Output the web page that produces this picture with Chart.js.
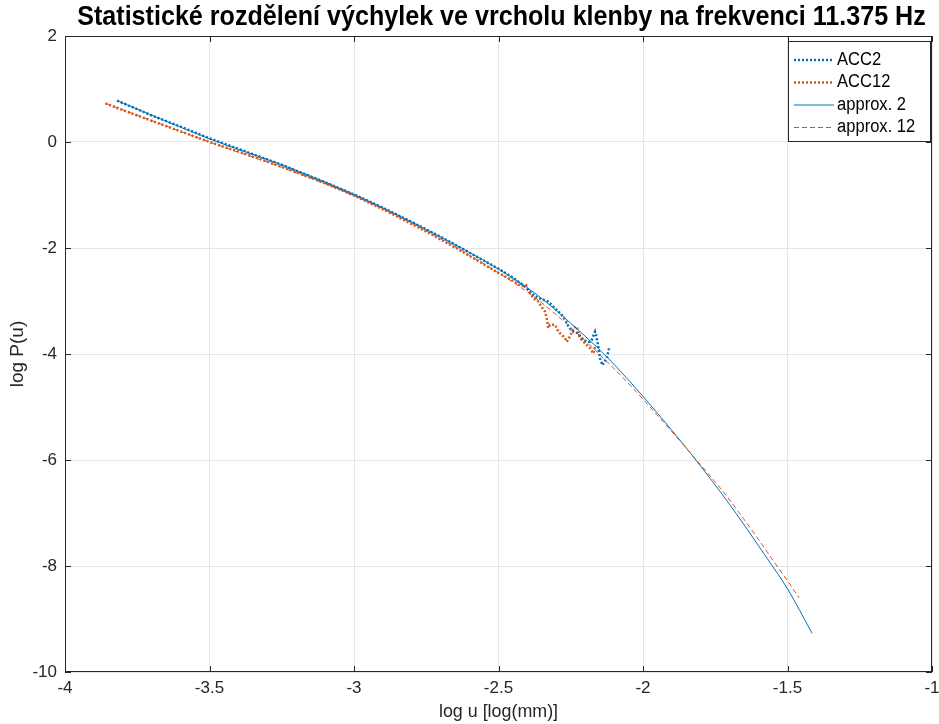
<!DOCTYPE html>
<html>
<head>
<meta charset="utf-8">
<script src="https://cdn.jsdelivr.net/npm/chart.js@4.4.1/dist/chart.umd.min.js"></script>
<style>
  html, body { margin: 0; padding: 0; background: #fff; }
  #wrap { width: 939px; height: 724px; }
</style>
</head>
<body>
<div id="wrap"><canvas id="chart" width="939" height="724"></canvas></div>
<script>
// naměřená data
const acc2X = [-3.82, -3.75, -3.70, -3.60, -3.50, -3.40, -3.30, -3.25, -3.20, -3.10, -3.00, -2.90, -2.80, -2.75, -2.70, -2.65, -2.60, -2.55, -2.50, -2.45, -2.415,
  -2.374, -2.350, -2.328, -2.299, -2.281, -2.266, -2.255, -2.241, -2.224, -2.212, -2.195, -2.183, -2.178, -2.166, -2.160, -2.155, -2.149, -2.140, -2.135, -2.125, -2.120, -2.116];
const acc2Y = [0.78, 0.62, 0.50, 0.29, 0.07, -0.13, -0.33, -0.43, -0.54, -0.76, -0.99, -1.24, -1.51, -1.65, -1.79, -1.94, -2.09, -2.24, -2.39, -2.56, -2.70,
  -2.91, -2.97, -3.01, -3.17, -3.26, -3.39, -3.51, -3.58, -3.61, -3.70, -3.77, -3.77, -3.74, -3.58, -3.70, -3.85, -4.08, -4.21, -4.15, -4.08, -3.95, -3.87];

const acc12X = [-3.86, -3.80, -3.70, -3.60, -3.50, -3.40, -3.30, -3.20, -3.10, -3.00, -2.90, -2.80, -2.75, -2.70, -2.65, -2.60, -2.55, -2.50, -2.45, -2.42, -2.405,
  -2.391, -2.379, -2.362, -2.351, -2.339, -2.333, -2.328, -2.322, -2.304, -2.293, -2.281, -2.270, -2.264, -2.253, -2.241, -2.230, -2.224, -2.218, -2.200, -2.183, -2.172, -2.166];
const acc12Y = [0.73, 0.60, 0.40, 0.20, 0.00, -0.18, -0.37, -0.57, -0.78, -1.01, -1.27, -1.55, -1.69, -1.84, -1.99, -2.15, -2.31, -2.47, -2.62, -2.72, -2.70,
  -2.85, -2.95, -3.01, -3.11, -3.20, -3.33, -3.51, -3.45, -3.45, -3.58, -3.64, -3.70, -3.77, -3.67, -3.51, -3.48, -3.58, -3.70, -3.80, -3.89, -3.99, -3.86];

// aproximace
const apr2X = [-3.82, -3.50, -3.25, -3.00, -2.75, -2.50, -2.37, -2.25, -2.126, -2.057, -2.00, -1.90, -1.82, -1.70, -1.57, -1.50, -1.415];
const apr2Y = [0.78, 0.06, -0.43, -0.99, -1.65, -2.40, -2.87, -3.42, -4.05, -4.45, -4.80, -5.44, -5.98, -6.84, -7.86, -8.43, -9.27];

const apr12X = [-3.86, -3.50, -3.25, -3.00, -2.75, -2.50, -2.37, -2.25, -2.114, -2.022, -1.976, -1.872, -1.82, -1.734, -1.653, -1.572, -1.53, -1.50, -1.46];
const apr12Y = [0.73, 0.00, -0.48, -1.01, -1.68, -2.47, -2.95, -3.50, -4.20, -4.72, -5.00, -5.64, -5.97, -6.52, -7.10, -7.72, -8.05, -8.28, -8.60];

const xTicks = [-4, -3.5, -3, -2.5, -2, -1.5, -1];
const yTicks = [2, 0, -2, -4, -6, -8, -10];

const blue = '#0072BD';
const orange = '#D95319';
const axisColor = '#262626';
const fontFam = '"Liberation Sans", Arial, sans-serif';

function pts(xs, ys) {
  return xs.map((x, i) => ({ x: x, y: ys[i] }));
}

// ramecek, vnitrni tecky, nadpis, popisky os a legenda
const matlabLook = {
  id: 'matlabLook',
  afterDraw(chart) {
    const ctx = chart.ctx;
    const a = chart.chartArea;
    const xs = chart.scales.x, ys = chart.scales.y;
    ctx.save();
    ctx.strokeStyle = axisColor;
    ctx.lineWidth = 1;
    ctx.strokeRect(a.left + 0.5, a.top + 0.5, a.right - a.left - 1, a.bottom - a.top - 1);
    ctx.beginPath();
    xTicks.forEach(t => {
      const px = Math.round(xs.getPixelForValue(t)) + 0.5;
      ctx.moveTo(px, a.bottom); ctx.lineTo(px, a.bottom - 6);
      ctx.moveTo(px, a.top); ctx.lineTo(px, a.top + 6);
    });
    yTicks.forEach(t => {
      const py = Math.round(ys.getPixelForValue(t)) + 0.5;
      ctx.moveTo(a.left, py); ctx.lineTo(a.left + 6, py);
      ctx.moveTo(a.right, py); ctx.lineTo(a.right - 6, py);
    });
    ctx.stroke();

    // popisky x osy
    ctx.fillStyle = axisColor;
    ctx.font = '17px ' + fontFam;
    ctx.textAlign = 'center';
    ctx.textBaseline = 'top';
    xTicks.forEach(t => {
      ctx.fillText(String(t), xs.getPixelForValue(t), a.bottom + 8);
    });

    // nadpis (trochu zuzeny jako v originale)
    ctx.fillStyle = '#000';
    ctx.font = 'bold 27px ' + fontFam;
    ctx.textBaseline = 'middle';
    ctx.save();
    ctx.translate((a.left + a.right) / 2 + 3, 18);
    ctx.scale(0.93, 1);
    ctx.fillText('Statistické rozdělení výchylek ve vrcholu klenby na frekvenci 11.375 Hz', 0, 0);
    ctx.restore();

    // popisky os
    ctx.fillStyle = axisColor;
    ctx.font = '19px ' + fontFam;
    ctx.save();
    ctx.translate((a.left + a.right) / 2, 712);
    ctx.scale(0.94, 1);
    ctx.fillText('log u [log(mm)]', 0, 0);
    ctx.restore();
    ctx.save();
    ctx.translate(18, (a.top + a.bottom) / 2);
    ctx.rotate(-Math.PI / 2);
    ctx.fillText('log P(u)', 0, 0);
    ctx.restore();

    // legenda
    const lx = 788, ly = 41, lw = 142, lh = 100;
    ctx.fillStyle = '#fff';
    ctx.fillRect(lx, ly, lw, lh);
    ctx.strokeStyle = axisColor;
    ctx.strokeRect(lx + 0.5, ly + 0.5, lw, lh);
    const items = [
      { label: 'ACC2', color: blue, width: 2.5, dash: [2, 2] },
      { label: 'ACC12', color: orange, width: 2.5, dash: [2, 2] },
      { label: 'approx. 2', color: blue, width: 1, dash: [] },
      { label: 'approx. 12', color: orange, width: 1, dash: [5, 3] }
    ];
    ctx.font = '18px ' + fontFam;
    ctx.textAlign = 'left';
    items.forEach((it, i) => {
      const y = ly + 19 + i * 22.5;
      ctx.beginPath();
      ctx.strokeStyle = it.color;
      ctx.lineWidth = it.width;
      ctx.setLineDash(it.dash);
      ctx.moveTo(lx + 6, y); ctx.lineTo(lx + 46, y);
      ctx.stroke();
      ctx.setLineDash([]);
      ctx.fillStyle = '#000';
      ctx.save();
      ctx.translate(lx + 49, y);
      ctx.scale(0.92, 1);
      ctx.fillText(it.label, 0, 0);
      ctx.restore();
    });
    ctx.restore();
  }
};

new Chart(document.getElementById('chart'), {
  type: 'line',
  data: {
    datasets: [
      { label: 'ACC2', data: pts(acc2X, acc2Y), borderColor: blue, borderWidth: 2.5, borderDash: [2, 2], order: 2 },
      { label: 'ACC12', data: pts(acc12X, acc12Y), borderColor: orange, borderWidth: 2.5, borderDash: [2, 2], order: 3 },
      { label: 'approx. 2', data: pts(apr2X, apr2Y), borderColor: blue, borderWidth: 1, cubicInterpolationMode: 'monotone', order: 1 },
      { label: 'approx. 12', data: pts(apr12X, apr12Y), borderColor: orange, borderWidth: 1, borderDash: [5, 3], cubicInterpolationMode: 'monotone', order: 0 }
    ]
  },
  options: {
    responsive: false,
    animation: false,
    layout: { autoPadding: false, padding: { top: 36, right: 7, left: 0, bottom: 0 } },
    elements: { point: { radius: 0, hoverRadius: 0, hitRadius: 0 }, line: { tension: 0, fill: false } },
    plugins: { legend: { display: false }, tooltip: { enabled: false }, title: { display: false } },
    scales: {
      x: {
        type: 'linear', min: -4, max: -1,
        afterBuildTicks: s => { s.ticks = xTicks.map(v => ({ value: v })); },
        afterFit: s => { s.height = 52; s.paddingLeft = 0; s.paddingRight = 0; },
        grid: { color: '#e6e6e6', drawTicks: false },
        border: { display: false },
        ticks: { display: false }
      },
      y: {
        type: 'linear', min: -10, max: 2,
        afterBuildTicks: s => { s.ticks = yTicks.map(v => ({ value: v })); },
        afterFit: s => { s.width = 65; },
        grid: { color: '#e6e6e6', drawTicks: false },
        border: { display: false },
        ticks: { color: axisColor, padding: 8, callback: v => String(v), font: { size: 17, family: fontFam } }
      }
    }
  },
  plugins: [matlabLook]
});
</script>
</body>
</html>
